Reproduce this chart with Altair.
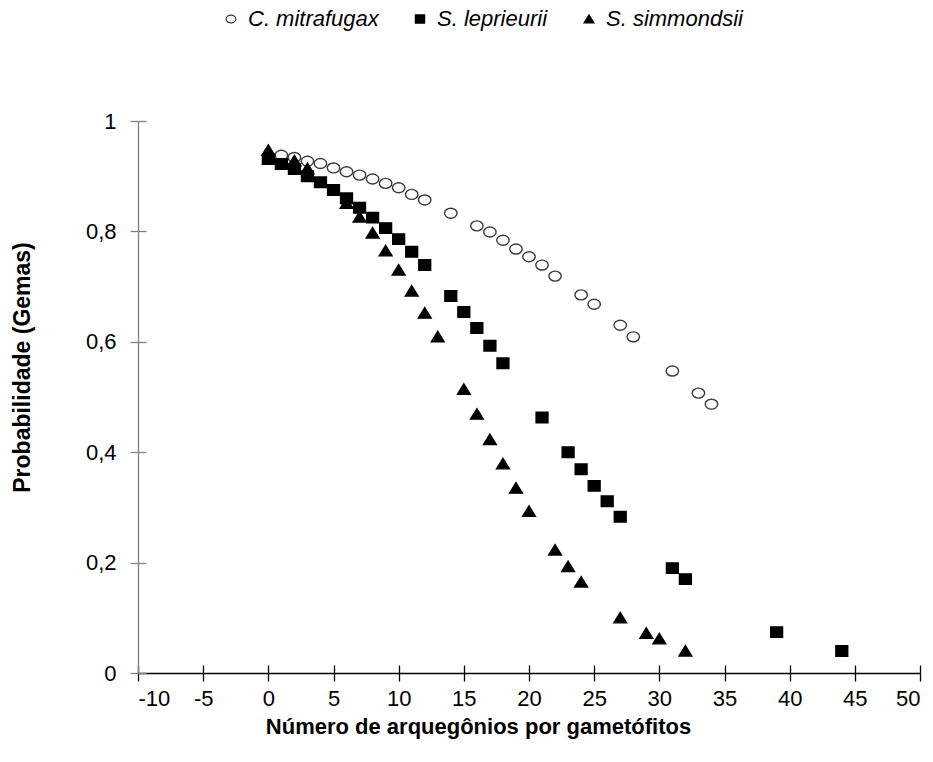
import altair as alt
import pandas as pd

# ---- data ----
species = ["C. mitrafugax", "S. leprieurii", "S. simmondsii"]

circ_x = [1, 2, 3, 4, 5, 6, 7, 8, 9, 10, 11, 12, 14, 16, 17, 18, 19, 20, 21, 22, 24, 25, 27, 28, 31, 33, 34]
circ_y = [0.938, 0.934, 0.927, 0.923, 0.915, 0.908, 0.902, 0.895, 0.887, 0.879, 0.867, 0.857, 0.833,
          0.810, 0.799, 0.784, 0.768, 0.754, 0.739, 0.719, 0.685, 0.668, 0.630, 0.609, 0.547, 0.507, 0.487]

sq_x = [0, 1, 2, 3, 4, 5, 6, 7, 8, 9, 10, 11, 12, 14, 15, 16, 17, 18, 21, 23, 24, 25, 26, 27, 31, 32, 39, 44]
sq_y = [0.931, 0.922, 0.913, 0.900, 0.889, 0.875, 0.860, 0.843, 0.825, 0.806, 0.786, 0.763, 0.739, 0.683,
        0.654, 0.625, 0.593, 0.561, 0.463, 0.400, 0.369, 0.339, 0.311, 0.283, 0.190, 0.170, 0.074, 0.040]

tri_x = [0, 2, 3, 6, 7, 8, 9, 10, 11, 12, 13, 15, 16, 17, 18, 19, 20, 22, 23, 24, 27, 29, 30, 32]
tri_y = [0.947, 0.928, 0.914, 0.851, 0.826, 0.797, 0.765, 0.730, 0.692, 0.652, 0.609, 0.514, 0.469,
         0.423, 0.379, 0.335, 0.293, 0.223, 0.193, 0.165, 0.100, 0.072, 0.062, 0.040]

x_ticks = [-10, -5, 0, 5, 10, 15, 20, 25, 30, 35, 40, 45, 50]
y_ticks = [0, 0.2, 0.4, 0.6, 0.8, 1.0]

rows = []
for sp, xs, ys in zip(species, [circ_x, sq_x, tri_x], [circ_y, sq_y, tri_y]):
    for a, b in zip(xs, ys):
        rows.append({"species": sp, "x": a, "y": b})
df = pd.DataFrame(rows)

# ---- styling ----
W, H = 782, 552
FONT = "Liberation Sans"
ellipse = "M -0.92 0 A 0.92 0.74 0 1 0 0.92 0 A 0.92 0.74 0 1 0 -0.92 0 Z"
rect = "M -0.88 -0.78 L 0.88 -0.78 L 0.88 0.78 L -0.88 0.78 Z"
tri = "M 0 -0.8 L 0.95 0.75 L -0.95 0.75 Z"

xscale = alt.Scale(domain=[-10, 50], nice=False, zero=False)
yscale = alt.Scale(domain=[0, 1], nice=False)

ylab = "datum.value == 0 ? '0' : (datum.value == 1 ? '1' : replace(format(datum.value, '.1f'), '.', ','))"

points = alt.Chart(df).mark_point(size=182, strokeWidth=1.4, opacity=1).encode(
    x=alt.X("x:Q", scale=xscale,
            axis=alt.Axis(values=x_ticks, tickSize=8, labelFontSize=22, labelPadding=7,
                          labelExpr="'' + datum.value", labelFont=FONT, labelColor="black",
                          domainColor="black", tickColor="black", domainWidth=1.3, tickWidth=1.3,
                          grid=False, title="Número de arquegônios por gametófitos",
                          titleFont=FONT, titleFontSize=22, titleFontWeight="bold",
                          titleColor="black", titleBaseline="middle", titleAlign="center",
                          titleX=340, titleY=53)),
    y=alt.Y("y:Q", scale=yscale,
            axis=alt.Axis(values=y_ticks, tickSize=8, labelFontSize=22, labelPadding=14,
                          labelExpr=ylab, labelFont=FONT, labelColor="black",
                          domainColor="#808080", tickColor="#808080", domainWidth=1.3, tickWidth=1.3,
                          grid=False, title="Probabilidade (Gemas)",
                          titleFont=FONT, titleFontSize=23, titleFontWeight="bold",
                          titleColor="black", titleBaseline="middle", titleAlign="center",
                          titleX=-116, titleY=246)),
    shape=alt.Shape("species:N", scale=alt.Scale(domain=species, range=[ellipse, rect, tri]),
                    legend=alt.Legend(title=None, orient="none", direction="horizontal",
                                      legendX=82, legendY=-113, labelFont=FONT,
                                      labelFontSize=22, labelFontStyle="italic", labelColor="black",
                                      symbolSize=110, symbolStrokeWidth=1.2, labelOffset=6,
                                      columnPadding=30)),
    fill=alt.Fill("species:N", scale=alt.Scale(domain=species, range=["transparent", "black", "black"])),
    stroke=alt.Stroke("species:N", scale=alt.Scale(domain=species, range=["#3a3a3a", "black", "black"])),
    order=alt.Order("ord:Q"),
).transform_calculate(
    ord="indexof(['C. mitrafugax','S. leprieurii','S. simmondsii'], datum.species)"
)

# second, invisible layer that carries opposite-side ticks so ticks cross the axes
cross = alt.Chart(df).mark_point(opacity=0).encode(
    x=alt.X("x:Q", scale=xscale,
            axis=alt.Axis(orient="top", offset=-H, values=x_ticks, tickSize=8, labels=False,
                          domain=False, tickColor="black", tickWidth=1.3, grid=False, title=None)),
    y=alt.Y("y:Q", scale=yscale,
            axis=alt.Axis(orient="right", offset=-W, values=y_ticks, tickSize=8, labels=False,
                          domain=False, tickColor="#808080", tickWidth=1.3, grid=False, title=None)),
)

chart = alt.layer(points, cross).resolve_axis(x="independent", y="independent").properties(
    width=W, height=H,
    autosize=alt.AutoSizeParams(type="none"),
    padding={"left": 138, "top": 121, "right": 13, "bottom": 89},
    background="white",
).configure_view(stroke=None)

chart.save("out.html", embed_options={"renderer": "svg", "actions": False})
